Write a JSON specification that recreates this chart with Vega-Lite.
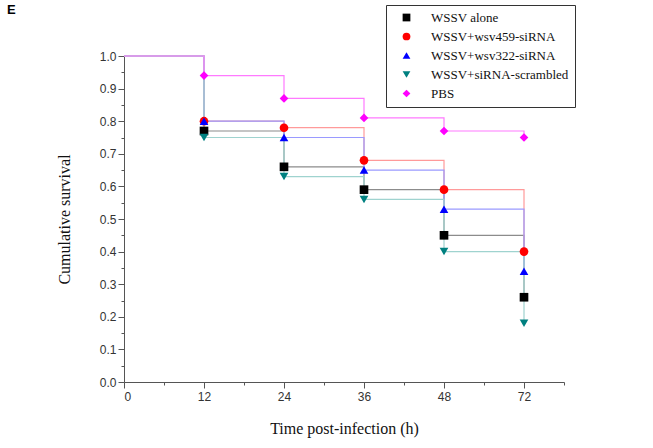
{
  "$schema": "https://vega.github.io/schema/vega-lite/v6.json",
  "width": 440,
  "height": 326,
  "autosize": {"type": "none"},
  "padding": {"left": 124, "top": 56, "right": 89, "bottom": 66},
  "background": "white",
  "title": {"text": "E", "anchor": "start", "frame": "group", "dx": -117, "offset": -25, "baseline": "bottom", "font": "Liberation Sans", "fontSize": 13, "fontWeight": "bold", "color": "#000"},
  "config": {
    "view": {"stroke": null},
    "axis": {"grid": false, "domainColor": "#555", "tickColor": "#555", "labelFont": "Liberation Sans", "labelFontSize": 12, "labelColor": "#333", "titleFont": "Liberation Serif", "titleFontSize": 16, "titleFontWeight": "normal", "titleColor": "#111"},
    "legend": {
      "orient": "none", "legendX": 262, "legendY": -51,
      "strokeColor": "#333", "padding": 6, "cornerRadius": 0,
      "labelFont": "Liberation Serif", "labelFontSize": 13, "labelColor": "#111",
      "rowPadding": 5, "symbolSize": 60, "symbolOffset": 8, "labelOffset": 18, "labelLimit": 200, "fillColor": "white", "symbolStrokeWidth": 0
    }
  },
  "data": {"values": [
    {"group": "WSSV alone", "time": 0, "survival": 1.0},
    {"group": "WSSV alone", "time": 12, "survival": 0.77},
    {"group": "WSSV alone", "time": 24, "survival": 0.66},
    {"group": "WSSV alone", "time": 36, "survival": 0.59},
    {"group": "WSSV alone", "time": 48, "survival": 0.45},
    {"group": "WSSV alone", "time": 72, "survival": 0.26},
    {"group": "WSSV+wsv459-siRNA", "time": 0, "survival": 1.0},
    {"group": "WSSV+wsv459-siRNA", "time": 12, "survival": 0.80},
    {"group": "WSSV+wsv459-siRNA", "time": 24, "survival": 0.78},
    {"group": "WSSV+wsv459-siRNA", "time": 36, "survival": 0.68},
    {"group": "WSSV+wsv459-siRNA", "time": 48, "survival": 0.59},
    {"group": "WSSV+wsv459-siRNA", "time": 72, "survival": 0.40},
    {"group": "WSSV+wsv322-siRNA", "time": 0, "survival": 1.0},
    {"group": "WSSV+wsv322-siRNA", "time": 12, "survival": 0.80},
    {"group": "WSSV+wsv322-siRNA", "time": 24, "survival": 0.75},
    {"group": "WSSV+wsv322-siRNA", "time": 36, "survival": 0.65},
    {"group": "WSSV+wsv322-siRNA", "time": 48, "survival": 0.53},
    {"group": "WSSV+wsv322-siRNA", "time": 72, "survival": 0.34},
    {"group": "WSSV+siRNA-scrambled", "time": 0, "survival": 1.0},
    {"group": "WSSV+siRNA-scrambled", "time": 12, "survival": 0.75},
    {"group": "WSSV+siRNA-scrambled", "time": 24, "survival": 0.63},
    {"group": "WSSV+siRNA-scrambled", "time": 36, "survival": 0.56},
    {"group": "WSSV+siRNA-scrambled", "time": 48, "survival": 0.40},
    {"group": "WSSV+siRNA-scrambled", "time": 72, "survival": 0.18},
    {"group": "PBS", "time": 0, "survival": 1.0},
    {"group": "PBS", "time": 12, "survival": 0.94},
    {"group": "PBS", "time": 24, "survival": 0.87},
    {"group": "PBS", "time": 36, "survival": 0.81},
    {"group": "PBS", "time": 48, "survival": 0.77},
    {"group": "PBS", "time": 72, "survival": 0.75}
  ]},
  "encoding": {
    "x": {
      "field": "time", "type": "quantitative",
      "scale": {"domain": [0, 12, 24, 36, 48, 72, 84], "range": [0, 80, 160, 240, 320, 400, 440], "zero": false, "nice": false},
      "axis": {
        "title": "Time post-infection (h)",
        "titlePadding": 18,
        "values": [0, 6, 12, 18, 24, 30, 36, 42, 48, 60, 72, 84],
        "labelExpr": "indexof([0,12,24,36,48,72], datum.value) >= 0 ? datum.label : ''",
        "tickSize": {"condition": {"test": "indexof([0,12,24,36,48,72], datum.value) < 0", "value": 3}, "value": 6},
        "labelPadding": 3
      }
    },
    "y": {
      "field": "survival", "type": "quantitative",
      "scale": {"domain": [0, 1], "nice": false},
      "axis": {
        "title": "Cumulative survival",
        "titlePadding": 27,
        "values": [0, 0.05, 0.1, 0.15, 0.2, 0.25, 0.3, 0.35, 0.4, 0.45, 0.5, 0.55, 0.6, 0.65, 0.7, 0.75, 0.8, 0.85, 0.9, 0.95, 1.0],
        "format": ".1f",
        "labelExpr": "round(datum.value*100) % 10 == 0 ? datum.label : ''",
        "tickSize": {"condition": {"test": "round(datum.value*100) % 10 != 0", "value": 3}, "value": 6}
      }
    }
  },
  "layer": [
    {
      "mark": {"type": "line", "interpolate": "step-after", "strokeWidth": 1.2},
      "encoding": {
        "stroke": {
          "field": "group", "type": "nominal",
          "scale": {"domain": ["WSSV alone", "WSSV+wsv459-siRNA", "WSSV+wsv322-siRNA", "WSSV+siRNA-scrambled", "PBS"], "range": ["#8c8c8c", "#ff9a9a", "#9a9aff", "#9fd3cf", "#ff7aff"]},
          "legend": {"title": null}
        },
        "order": {"field": "time"}
      }
    },
    {
      "transform": [{"filter": "datum.time > 0"}],
      "mark": {"type": "point", "filled": true, "opacity": 1, "size": 75},
      "encoding": {
        "color": {
          "field": "group", "type": "nominal",
          "scale": {"domain": ["WSSV alone", "WSSV+wsv459-siRNA", "WSSV+wsv322-siRNA", "WSSV+siRNA-scrambled", "PBS"], "range": ["#000000", "#ff0000", "#0000ff", "#008080", "#ff00ff"]},
          "legend": {"title": null}
        },
        "shape": {
          "field": "group", "type": "nominal",
          "scale": {"domain": ["WSSV alone", "WSSV+wsv459-siRNA", "WSSV+wsv322-siRNA", "WSSV+siRNA-scrambled", "PBS"], "range": ["square", "circle", "triangle-up", "triangle-down", "diamond"]},
          "legend": {"title": null}
        }
      }
    }
  ]
}
